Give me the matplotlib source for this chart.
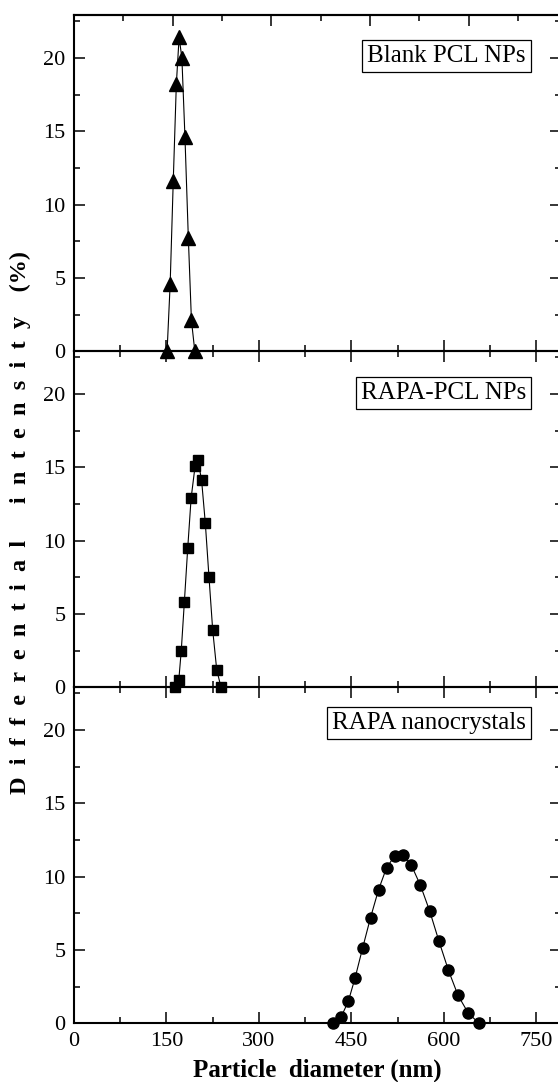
import numpy as np
import matplotlib.pyplot as plt
from matplotlib.ticker import MultipleLocator, NullFormatter

plt.rcParams['font.family'] = ['Liberation Serif', 'DejaVu Serif']

# Blank PCL NPs
blank_d = [151, 156, 161, 166, 170.5, 175, 180, 185.5, 190.5, 196]
blank_i = [0, 4.6, 11.6, 18.2, 21.4, 20.0, 14.6, 7.7, 2.1, 0]

# RAPA-PCL NPs
rapa_pcl_d = [164, 170, 174, 179, 184.5, 190, 196.5, 201, 207, 213, 219, 225, 231.5, 238.5]
rapa_pcl_i = [0, 0.5, 2.5, 5.8, 9.5, 12.9, 15.1, 15.5, 14.1, 11.2, 7.5, 3.9, 1.2, 0]

# RAPA nanocrystals
nano_d = [420, 433, 445, 456, 468, 481, 494, 507, 520, 533.5, 547, 562, 577, 592, 607.5, 623, 639.5, 657]
nano_i = [0, 0.4, 1.5, 3.1, 5.1, 7.2, 9.1, 10.6, 11.4, 11.5, 10.8, 9.4, 7.65, 5.6, 3.6, 1.9, 0.7, 0]

labels = ['Blank PCL NPs', 'RAPA-PCL NPs', 'RAPA nanocrystals']
markers = ['^', 's', 'o']
msizes = [9.5, 7.5, 8]
xs = [blank_d, rapa_pcl_d, nano_d]
ys = [blank_i, rapa_pcl_i, nano_i]

W, H = 558, 1082
fig = plt.figure(figsize=(W / 100, H / 100), dpi=100)

left = 74 / W
width = (561 - 74) / W
ph = 336 / H
zeros = [351.3, 687.3, 1023.3]   # pixel rows of y=0 in each panel
box_y = [0.878, 0.875, 0.893]

axes = []
for k in range(3):
    ax = fig.add_axes([left, 1 - zeros[k] / H, width, ph])
    ax.set_zorder(3 - k)
    ax.patch.set_visible(False)
    ax.plot(xs[k], ys[k], color='black', lw=0.8, marker=markers[k],
            ms=msizes[k], mfc='black', mec='black', clip_on=False, zorder=3)
    ax.set_xlim(0, 790)
    ax.set_ylim(0, 22.9)
    ax.xaxis.set_major_locator(MultipleLocator(150))
    ax.xaxis.set_minor_locator(MultipleLocator(75))
    ax.yaxis.set_major_locator(MultipleLocator(5))
    ax.yaxis.set_minor_locator(MultipleLocator(2.5))
    ax.tick_params(which='both', direction='in', top=(k != 0), right=True,
                   labelsize=16, width=1.1, pad=6)
    ax.tick_params(which='major', length=8)
    ax.tick_params(which='minor', length=4)
    for s in ax.spines.values():
        s.set_linewidth(1.5)
    if k < 2:
        ax.xaxis.set_major_formatter(NullFormatter())
    ax.text(0.928, box_y[k], labels[k], transform=ax.transAxes, ha='right', va='center',
            fontsize=18, bbox=dict(boxstyle='square,pad=0.2', fc='white', ec='black', lw=0.9))
    axes.append(ax)

# top axis of the upper panel has its own tick spacing
sec = axes[0].secondary_xaxis('top', functions=(lambda x: x * 0.937, lambda x: x / 0.937))
sec.xaxis.set_major_locator(MultipleLocator(150))
sec.xaxis.set_minor_locator(MultipleLocator(75))
sec.xaxis.set_major_formatter(NullFormatter())
sec.tick_params(which='both', direction='in', width=1.1)
sec.tick_params(which='major', length=8)
sec.tick_params(which='minor', length=4)
sec.spines['top'].set_linewidth(1.5)

fig.text(317 / W, 1 - 1070 / H, 'Particle  diameter (nm)', ha='center', va='center',
         fontsize=18, fontweight='bold')
ylab = '  '.join('Differential') + '      ' + '  '.join('intensity') + '    (%)'
fig.text(20 / W, 1 - 522 / H, ylab, rotation=90, ha='center', va='center',
         fontsize=17.5, fontweight='bold')

fig.savefig('out.png', dpi=100)
